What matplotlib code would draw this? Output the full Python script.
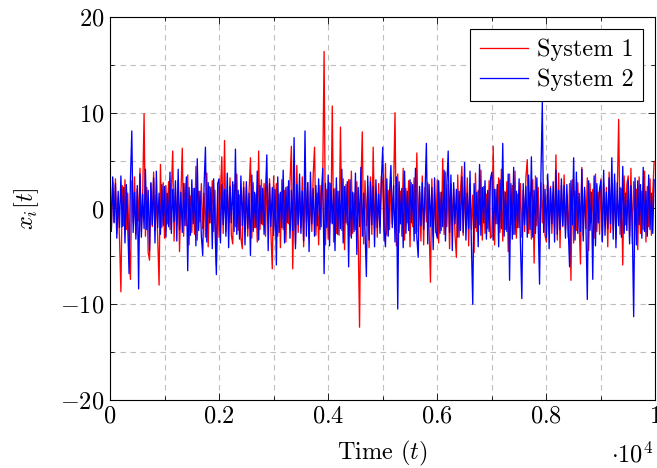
import numpy as np
import matplotlib.pyplot as plt
from matplotlib.ticker import MultipleLocator

plt.rcParams['font.family'] = 'cmr10'
plt.rcParams['mathtext.fontset'] = 'cm'
plt.rcParams['axes.formatter.use_mathtext'] = True

# traces, one row per 0.1e4 of time (step 25)
system1 = [
    1.5, -2.1, 2.8, -1.4, 3.1, -2.6, 1.2, -3.3, -8.7, 2.4, -1.8, 3.0, -2.2, 1.6, -3.5, -7.4, 2.9, -1.5, 3.3, -2.7,
    2.0, -1.3, 4.2, -2.4, 1.7, 9.9, -2.9, 2.2, -4.6, -5.4, 2.6, -1.9, 3.8, -2.3, 1.4, -3.1, -8.0, 4.6, -2.0, 2.7,
    -3.1, 2.4, -1.6, 2.8, -2.2, 1.9, 6.0, -3.4, 2.1, -1.7, 3.0, -4.5, 1.5, 6.3, -2.9, 2.6, -1.8, 3.5, -3.8, 1.3,
    -2.5, 2.1, -2.7, 4.4, -3.3, 1.8, -1.4, 2.6, -2.1, 1.6, -3.0, 3.7, -4.0, 2.3, -1.5, 2.9, -2.4, 1.9, -5.9, 2.2,
    -3.0, 1.7, 5.4, -2.6, 7.1, -2.4, 1.9, -1.5, 3.2, -2.8, -3.7, 2.5, -1.9, 3.6, -2.3, 1.4, -3.1, -4.2, 2.8, -1.6,
    2.2, -2.9, 1.8, 5.3, -3.1, 2.7, -2.0, 1.5, -3.5, 6.0, -2.2, 3.0, -1.7, 2.6, -2.9, 2.4, -1.3, 3.1, -2.6, -6.3,
    3.4, -1.8, 2.6, -2.9, 1.5, -4.1, 3.0, -2.2, 1.9, -3.5, 2.3, -1.6, 2.8, 6.5, -6.3, 2.1, -3.7, 4.5, -2.5, 1.7,
    -2.0, 3.3, -4.0, 2.2, -1.4, 2.7, -3.1, 1.8, -2.4, 3.5, 6.4, -2.8, 1.6, -3.8, 2.4, -1.9, 3.1, 16.4, -3.8, 2.0,
    -3.2, 2.7, -1.5, 10.7, -3.5, 2.1, -2.6, 1.8, -2.8, 8.5, -2.3, 3.1, -4.3, 2.5, -1.7, 3.0, -2.9, 3.9, -2.6, 1.6,
    -2.2, 2.8, -3.0, -12.4, 2.4, 8.0, -3.7, 2.9, -1.8, 2.3, -4.1, 3.3, -2.7, 6.4, -2.1, 1.5, -3.0, 2.6, -1.9, 3.4,
    2.6, -3.4, 4.7, -2.8, 1.9, -2.2, 3.3, -1.6, 2.4, 10.0, -3.9, 3.6, -2.5, 1.8, -2.9, 4.2, -3.3, 2.1, -1.5, 2.9,
    -4.0, 2.7, -1.9, 3.2, -2.6, 5.8, -2.4, 1.7, -3.4, 3.4, -3.8, 2.2, -1.4, 2.7, -2.0, -7.7, 3.1, -2.9, 1.6, -2.5,
    3.0, -3.6, 1.7, -2.3, 5.2, -2.7, 3.8, -1.9, 2.5, -4.2, 2.6, -1.5, 2.1, -2.8, -5.1, 3.5, -3.0, 1.8, 4.4, -2.8,
    2.2, -1.6, 3.2, -3.9, 2.5, -2.2, 1.4, -4.6, 3.7, -2.4, 1.9, -1.7, 4.0, -3.3, 2.3, -2.6, 1.5, -2.1, 2.9, -3.1,
    -2.9, 6.5, -3.8, 2.0, -1.6, 3.2, -2.5, 4.1, -3.4, 1.8, -2.2, 2.8, -4.5, 3.6, -1.7, 2.4, -2.7, 3.9, -3.1, 1.5,
    -2.0, 2.6, -3.0, 1.9, -2.4, 3.3, 5.1, -2.6, 1.7, -3.2, 3.0, -5.7, 3.4, -1.8, 2.2, -4.0, 2.7, -1.5, 2.5, -2.8,
    -3.5, 2.9, -1.7, 2.3, -2.6, 1.6, -2.0, 5.6, -3.3, 3.7, -4.1, 2.4, -1.9, 3.5, -2.2, 1.5, -3.0, 2.6, -7.5, 3.0,
    -3.6, 1.8, -2.3, 2.7, -1.6, -5.8, 4.3, -2.8, 1.9, -2.1, 3.2, -4.4, 2.6, -1.5, 2.0, -3.1, 3.6, -2.4, 1.7, -2.7,
    3.1, -3.4, 2.6, -1.8, 2.2, -4.0, 3.8, -2.5, 1.6, -2.2, 2.9, -3.2, 1.9, 9.3, -2.7, 2.1, -5.9, 3.4, -1.7, 2.5,
    3.4, -2.9, 4.2, -3.7, 2.8, -1.6, 2.0, -4.3, 3.3, -2.6, 1.8, -2.2, 3.9, -3.5, 2.3, -1.9, 3.1, -2.8, 1.7, 4.9,
]

system2 = [
    4.0, -2.4, 3.3, -1.5, 2.6, -3.1, 1.8, -2.0, 3.4, -1.9, 2.2, -3.6, 2.5, -1.6, -6.8, 3.0, 8.1, -2.5, 1.7, -3.2,
    2.4, -8.4, 3.6, -3.0, 1.5, -2.1, 4.1, -2.2, 1.9, -4.4, 2.7, -1.7, 3.2, -3.6, 3.9, -2.0, 1.6, -2.7, 2.5, -1.8,
    2.3, -3.0, 1.6, -1.9, 3.8, -2.6, 2.0, -1.4, 2.9, -3.4, 4.1, -2.2, 1.7, -2.5, 2.6, -1.8, 3.3, -6.5, 2.2, -2.8,
    3.0, -1.6, 2.1, -3.9, 5.2, -2.3, 1.8, -2.9, -4.9, 2.4, 6.4, -3.5, 2.7, -1.5, 2.2, -4.2, 3.1, -2.0, -6.9, 2.6,
    3.1, -3.6, 2.5, -1.7, 2.0, -2.9, 3.7, -4.1, 2.3, -1.5, 2.8, -2.4, 6.2, -2.7, 1.9, -3.2, 3.4, -1.8, 2.2, -3.8,
    2.8, -2.1, 1.6, -4.9, 3.5, -2.4, 1.7, -2.0, 3.9, -3.3, 2.4, -1.6, 2.1, -2.7, 1.5, 5.6, -4.4, 2.6, -1.9, 2.2,
    -2.8, 2.0, -5.9, 3.3, -2.5, 1.7, -2.0, 4.0, -3.6, 2.2, -1.5, 2.9, -3.1, 1.9, -2.3, 7.4, -4.2, 2.5, -1.7, 3.6,
    -2.6, 1.8, -3.4, 8.1, -2.9, 2.7, -4.5, 3.8, -1.6, 2.1, -2.9, 2.4, -1.8, 3.1, -2.2, 1.5, 4.2, -6.8, 2.6, -2.0,
    3.5, -3.9, 2.6, -1.6, 2.0, -4.4, 3.2, -2.7, 1.8, -2.1, 4.1, -3.6, 2.3, -1.5, 2.8, -6.1, 3.0, -3.1, 1.7, -2.4,
    3.7, -4.8, 2.2, -1.9, 4.3, -2.9, 1.6, -2.2, -7.1, 3.4, -3.3, 2.8, -1.7, 2.3, -4.0, 3.0, -2.0, 1.5, -2.6, 2.9,
    6.4, -2.2, -4.0, 3.1, -2.9, 1.7, 4.5, -2.0, 2.4, -3.5, 3.3, -10.5, 2.8, -1.6, 2.1, -4.1, 3.9, -2.6, 1.8, -2.3,
    3.0, -1.5, 2.5, -3.4, 4.2, -3.0, -5.1, 2.3, -1.8, 2.7, -2.2, 1.6, 6.8, -3.7, 2.5, -1.9, 2.2, -4.3, 3.2, -2.4,
    -3.1, 2.9, -2.6, 1.7, -1.9, 4.0, -3.4, 2.3, 6.0, -2.5, 3.5, -4.4, 2.7, -1.6, 2.0, -3.0, 1.8, -2.3, 3.3, -2.5,
    4.8, -3.3, 1.6, -2.1, 3.9, -3.6, -10.0, 2.6, -2.0, 1.7, -4.0, 4.6, -2.8, 2.2, -1.5, 2.9, -3.2, 1.9, -2.4, 3.1,
    3.8, -3.3, 2.0, -1.6, 2.5, -4.0, 3.0, -2.1, 6.8, -2.9, 1.7, -2.4, 3.6, -7.5, 2.6, -3.2, 4.3, -2.7, 1.8, -2.0,
    3.1, -3.8, -9.4, 2.6, -1.7, 2.3, -3.0, 3.5, -2.2, 5.4, -3.0, 1.9, -2.6, 3.2, -1.8, -7.9, 3.5, 11.1, -2.5, 2.0,
    -3.0, 3.6, -4.2, 2.1, -1.6, 2.8, -3.5, 4.0, -2.7, 1.9, -2.2, 3.1, -1.8, 2.4, -3.1, 2.5, -2.0, -6.1, 2.9, -1.7,
    5.3, -3.3, 3.8, -2.6, 1.6, -2.4, 4.1, -3.4, 2.2, -1.9, -9.5, 2.9, -2.3, 1.7, -7.4, 3.4, -3.9, 2.6, -1.5, 2.1,
    2.9, -3.5, 4.0, -2.8, 1.7, -2.1, 3.2, -1.6, 5.3, -3.2, 3.6, -4.1, 2.7, -1.8, 2.2, -3.0, 4.4, -2.6, 1.6, -2.3,
    2.9, -3.7, 2.4, -1.9, -11.3, 3.2, -3.8, 2.9, -1.7, 2.5, -3.1, 4.3, -2.4, 1.8, -2.9, 3.5, -2.2, 1.6, -2.6, 3.0,
]

step = 25
t = np.arange(len(system1)) * step

xticks = [0, 2000, 4000, 6000, 8000, 10000]
xtick_labels = ['$0$', '$0.2$', '$0.4$', '$0.6$', '$0.8$', '$1$']
yticks = [-20, -10, 0, 10, 20]
ytick_labels = ['$-20$', '$-10$', '$0$', '$10$', '$20$']

fs = 17.5

fig = plt.figure(figsize=(6.57, 4.68), dpi=100)
ax = fig.add_axes([0.1674, 0.1453, 0.8303, 0.8184])

ax.plot(t, system1, color='red', lw=0.95, label='System 1')
ax.plot(t, system2, color='blue', lw=0.95, label='System 2')

ax.set_xlim(0, 10000)
ax.set_ylim(-20, 20)
ax.set_xticks(xticks)
ax.set_xticklabels(xtick_labels)
ax.set_yticks(yticks)
ax.set_yticklabels(ytick_labels)
ax.xaxis.set_minor_locator(MultipleLocator(1000))
ax.yaxis.set_minor_locator(MultipleLocator(5))

ax.grid(True, which='both', color='#bfbfbf', linestyle=(0, (5, 4)), lw=0.8)
ax.set_axisbelow(True)
ax.tick_params(which='both', direction='in', top=True, right=True, labelsize=fs, width=0.6)
ax.tick_params(which='major', length=5, pad=4)
ax.tick_params(which='minor', length=3)
for s in ax.spines.values():
    s.set_linewidth(0.8)

ax.set_xlabel('Time ($t$)', fontsize=fs, labelpad=8)
ax.set_ylabel('$x_i[t]$', fontsize=fs, labelpad=14)
ax.text(0.995, -0.11, r'$\cdot 10^4$', transform=ax.transAxes, ha='right', va='top', fontsize=fs)

leg = ax.legend(loc='upper right', fontsize=fs, fancybox=False, framealpha=1,
                edgecolor='black', handlelength=2.0, borderaxespad=0.5,
                borderpad=0.4, labelspacing=0.3, handletextpad=0.35)
leg.get_frame().set_linewidth(0.8)

fig.savefig('out.png', dpi=100)
